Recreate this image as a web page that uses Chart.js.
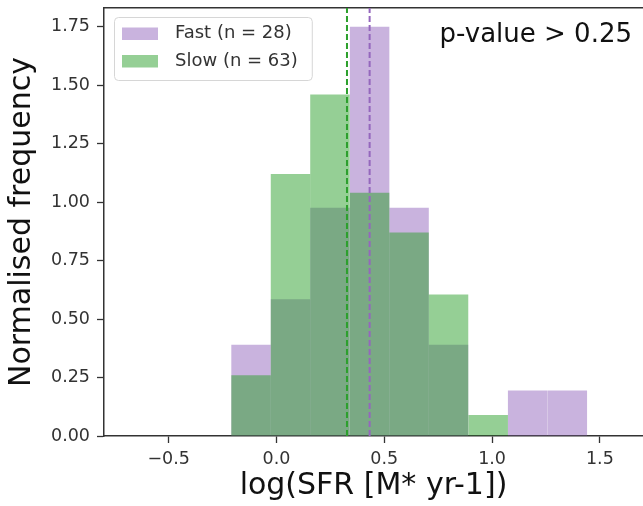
<!DOCTYPE html>
<html>
<head>
<meta charset="utf-8">
<script src="https://cdn.jsdelivr.net/npm/chart.js@4.4.0/dist/chart.umd.min.js"></script>
<style>
html, body { margin: 0; padding: 0; background: #fff; }
</style>
</head>
<body>
<canvas id="mycanvas" width="643" height="506"></canvas>
<script>
// histogram bins (centres, log SFR) and normalised frequencies
let binCenters = [-0.118, 0.065, 0.248, 0.432, 0.615, 0.798, 0.982, 1.165, 1.349];
let fastFreq = [0.39, 0.585, 0.976, 1.75, 0.976, 0.39, 0, 0.195, 0.195];
let slowFreq = [0.26, 1.12, 1.46, 1.04, 0.87, 0.605, 0.09, 0, 0];
let seriesNames = ["Fast (n = 28)", "Slow (n = 63)"];
let medianFast = 0.432;
let medianSlow = 0.327;
let xTicks = [-0.5, 0, 0.5, 1, 1.5];
let yTicks = [0, 0.25, 0.5, 0.75, 1, 1.25, 1.5, 1.75];
let pText = "p-value > 0.25";

let fam = '"DejaVu Sans", sans-serif';
let xMin = -0.8, xMax = 1.7, yMax = 1.83;

let purple = 'rgba(148, 103, 189, 0.5)';
let green = 'rgba(44, 160, 44, 0.5)';

// legend + p-value text drawn on top of the plot
const extras = {
	id: 'extras',
	afterDatasetsDraw(chart) {
		const ctx = chart.ctx;
		const ca = chart.chartArea;
		ctx.save();
		ctx.font = '26px ' + fam;
		ctx.fillStyle = '#111';
		ctx.textAlign = 'right';
		ctx.textBaseline = 'alphabetic';
		ctx.fillText(pText, ca.right - 11, ca.top + 34);

		let bars = chart.data.datasets.filter(d => d.type !== 'line');
		ctx.font = '18px ' + fam;
		let tw = Math.max(...bars.map(d => ctx.measureText(d.label).width));
		let bx = ca.left + 10, by = ca.top + 9;
		let bw = 8 + 36 + 17 + tw + 14, bh = 63;
		ctx.fillStyle = 'rgba(255,255,255,0.8)';
		ctx.strokeStyle = '#d6d6d6';
		ctx.lineWidth = 1;
		ctx.beginPath();
		ctx.roundRect(bx + 0.5, by + 0.5, bw, bh, 4);
		ctx.fill();
		ctx.stroke();
		bars.forEach((d, i) => {
			let cy = by + 16.5 + i * 27.5;
			ctx.fillStyle = d.backgroundColor;
			ctx.fillRect(bx + 8, cy - 6, 36, 12.5);
			ctx.fillStyle = '#333';
			ctx.textAlign = 'left';
			ctx.textBaseline = 'middle';
			ctx.fillText(d.label, bx + 61, cy);
		});
		ctx.restore();
	}
};

var ctx = document.getElementById("mycanvas").getContext('2d');
var myChart = new Chart(ctx, {
	type: 'bar',
	data: {
		datasets: [{
			label: seriesNames[0],
			data: binCenters.map((c, i) => ({x: c, y: fastFreq[i]})),
			backgroundColor: purple,
			borderWidth: 0,
			inflateAmount: 0,
			order: 2
		}, {
			label: seriesNames[1],
			data: binCenters.map((c, i) => ({x: c, y: slowFreq[i]})),
			backgroundColor: green,
			borderWidth: 0,
			inflateAmount: 0,
			order: 1
		}, {
			type: 'line',
			label: 'median slow',
			data: [{x: medianSlow, y: 0}, {x: medianSlow, y: yMax}],
			borderColor: '#2ca02c',
			borderWidth: 2,
			borderDash: [6, 3],
			pointRadius: 0,
			order: 0
		}, {
			type: 'line',
			label: 'median fast',
			data: [{x: medianFast, y: 0}, {x: medianFast, y: yMax}],
			borderColor: '#9467bd',
			borderWidth: 2,
			borderDash: [6, 3],
			pointRadius: 0,
			order: 0
		}]
	},
	options: {
		responsive: false,
		animation: false,
		grouped: false,
		barPercentage: 1,
		categoryPercentage: 1,
		layout: { padding: { left: 0, top: 8, right: 0, bottom: 0 } },
		plugins: {
			legend: { display: false },
			tooltip: { enabled: false }
		},
		scales: {
			x: {
				type: 'linear',
				min: xMin,
				max: xMax,
				offset: false,
				afterBuildTicks: s => { s.ticks = xTicks.map(v => ({value: v})); },
				ticks: {
					font: { family: fam, size: 17.5 },
					color: '#333',
					padding: 6,
					maxRotation: 0,
					callback: v => v.toFixed(1).replace('-', '\u2212')
				},
				grid: { display: true, offset: false, drawOnChartArea: false, drawTicks: true, tickLength: 7, tickColor: '#333', tickWidth: 1.3 },
				border: { display: true, color: '#333', width: 1.5 },
				title: {
					display: true,
					text: 'log(SFR [M* yr-1])',
					font: { family: fam, size: 30 },
					color: '#111',
					padding: { top: 0, bottom: 2 }
				},
				afterFit: s => { s.height = 70; s.paddingLeft = 0; s.paddingRight = 0; }
			},
			xTop: {
				type: 'linear',
				position: 'top',
				min: xMin,
				max: xMax,
				ticks: { display: false },
				grid: { display: false },
				border: { display: true, color: '#333', width: 1.5 },
				afterFit: s => { s.height = 0; }
			},
			y: {
				min: 0,
				max: yMax,
				afterBuildTicks: s => { s.ticks = yTicks.map(v => ({value: v})); },
				ticks: {
					font: { family: fam, size: 17.5 },
					color: '#333',
					padding: 7,
					callback: v => v.toFixed(2)
				},
				grid: { display: true, drawOnChartArea: false, drawTicks: true, tickLength: 7, tickColor: '#333', tickWidth: 1.3 },
				border: { display: true, color: '#333', width: 1.5 },
				title: {
					display: true,
					text: 'Normalised frequency',
					font: { family: fam, size: 30 },
					color: '#111',
					padding: { top: 4, bottom: 0 }
				},
				afterFit: s => { s.width = 104; s.paddingTop = 0; s.paddingBottom = 0; }
			}
		}
	},
	plugins: [extras]
});
</script>
</body>
</html>
